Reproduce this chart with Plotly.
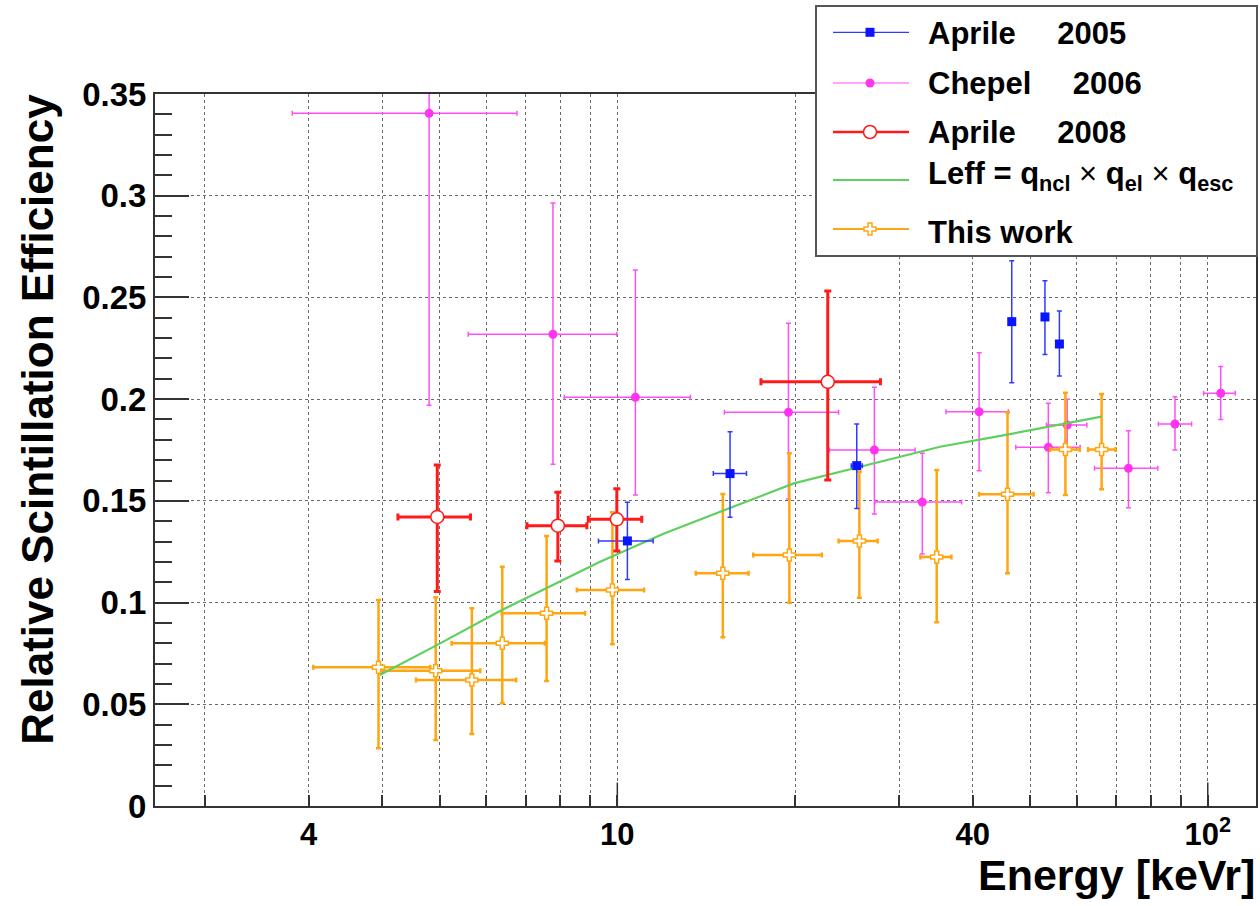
import math
import plotly.graph_objects as go

# ---------------- data ----------------
# Aprile 2005 (blue squares)
a05_x = [10.4, 15.52, 25.44, 46.56, 53.0, 56.07]
a05_y = [0.1303, 0.1634, 0.1673, 0.2381, 0.2404, 0.2271]
a05_xlo = [9.29, 14.54, 24.9, 46.56, 53.0, 56.07]
a05_xhi = [11.5, 16.55, 26.0, 46.56, 53.0, 56.07]
a05_ylo = [0.1114, 0.1419, 0.1463, 0.2081, 0.2220, 0.2114]
a05_yhi = [0.1493, 0.1840, 0.1878, 0.2680, 0.2582, 0.2433]

# Chepel 2006 (magenta circles)
c06_x = [4.80, 7.78, 10.73, 19.49, 27.25, 32.85, 41.0, 53.7, 57.8, 73.4, 88.0, 105.2]
c06_y = [0.3405, 0.2319, 0.2009, 0.1935, 0.1750, 0.1494, 0.1938, 0.1763, 0.1873, 0.1660, 0.1878, 0.2029]
c06_xlo = [2.815, 5.59, 8.13, 15.18, 22.87, 27.3, 36.03, 47.3, 53.3, 64.3, 82.5, 98.4]
c06_xhi = [6.76, 9.98, 13.3, 23.7, 31.94, 38.3, 45.94, 60.8, 62.4, 82.3, 93.9, 111.3]
c06_ylo = [0.197, 0.168, 0.1529, 0.1509, 0.1435, 0.1239, 0.1648, 0.154, 0.1747, 0.1466, 0.175, 0.190]
c06_yhi = [0.48, 0.2964, 0.2635, 0.2373, 0.2058, 0.1734, 0.2228, 0.198, 0.1999, 0.1845, 0.2012, 0.216]

# Aprile 2008 (red open circles)
a08_x = [4.955, 7.93, 9.98, 22.72]
a08_y = [0.1421, 0.1378, 0.1409, 0.2085]
a08_xlo = [4.25, 7.03, 8.93, 17.51]
a08_xhi = [5.64, 8.88, 11.0, 27.9]
a08_ylo = [0.1054, 0.1204, 0.1253, 0.1603]
a08_yhi = [0.1676, 0.1542, 0.1560, 0.2532]

# Leff = qncl x qel x qesc (green curve)
leff_x = [3.96, 4.92, 6.34, 8.0, 9.35, 12.0, 15.0, 19.9, 25.0, 30.0, 35.2, 44.3, 55.0, 66.1]
leff_y = [0.0644, 0.0787, 0.0960, 0.1104, 0.1201, 0.1340, 0.1449, 0.1586, 0.1658, 0.1715,
          0.1766, 0.1818, 0.1871, 0.1914]

# This work (orange)
tw_x = [3.94, 4.925, 5.67, 6.385, 7.59, 9.81, 15.09, 19.56, 25.7, 34.75, 45.8, 57.4, 66.1]
tw_y = [0.0682, 0.0665, 0.0619, 0.0800, 0.0947, 0.1062, 0.1144, 0.1234, 0.1303, 0.1224,
        0.1532, 0.1753, 0.1753]
tw_xlo = [3.055, 3.97, 4.56, 5.24, 6.37, 8.54, 13.58, 16.99, 23.7, 32.6, 41.0, 54.1, 62.7]
tw_xhi = [4.82, 5.86, 6.74, 7.54, 8.82, 11.1, 16.68, 22.2, 27.6, 36.8, 50.7, 60.7, 69.8]
tw_ylo = [0.0284, 0.0324, 0.0354, 0.0505, 0.0614, 0.0795, 0.0829, 0.0999, 0.1024, 0.0903,
          0.1144, 0.1529, 0.1557]
tw_yhi = [0.1013, 0.1026, 0.0972, 0.1176, 0.1327, 0.1444, 0.1534, 0.1734, 0.1643, 0.1652,
          0.1935, 0.2032, 0.2025]

# axes
x_min, x_max = 1.648, 120.7
y_min, y_max = 0.0, 0.35
xtick_vals = [3, 10, 40, 100]
xtick_text = ["4", "10", "40", "10<sup>2</sup>"]
xminor_vals = [2, 4, 5, 6, 7, 8, 9, 20, 30, 50, 60, 70, 80, 90]
ytick_vals = [0, 0.05, 0.1, 0.15, 0.2, 0.25, 0.3, 0.35]
ytick_text = ["0", "0.05", "0.1", "0.15", "0.2", "0.25", "0.3", "0.35"]

legend_labels = [
    "Aprile\u00a0\u00a0\u2002 2005",
    "Chepel\u00a0\u00a0\u2002 2006",
    "Aprile\u00a0\u00a0\u2002 2008",
    "Leff = q<sub>ncl</sub> <span style=\"font-weight:normal\">\u00d7</span> q<sub>el</sub> "
    "<span style=\"font-weight:normal\">\u00d7</span> q<sub>esc</sub>",
    "This work",
]

# ---------------- styling / layout ----------------
W, H = 1260, 906
PL, PR, PT, PB = 155, 1256, 94, 806          # plot frame in pixels
LL, LR, LT, LB = 817, 1256, 7, 255           # legend box in pixels

BLUE = "#0a14ff"
BLUE_BAR = "#2f3aff"
MAG = "#ff33f0"
MAG_BAR = "#ff4ff6"
RED = "#ff1a1a"
GREEN = "#5fcf5f"
ORANGE = "#ffa510"
FONT = "Liberation Sans, Arial, sans-serif"

fig = go.Figure()


def errs(v, lo, hi):
    plus = [h - c for c, h in zip(v, hi)]
    minus = [c - l for c, l in zip(v, lo)]
    return plus, minus


def add_points(x, y, xlo, xhi, ylo, yhi, barcolor, thick, cap, symbol, size, fill, edge, edgew):
    xp, xm = errs(x, xlo, xhi)
    yp, ym = errs(y, ylo, yhi)
    fig.add_trace(go.Scatter(
        x=x, y=y, mode="markers", showlegend=False, xaxis="x", yaxis="y",
        error_x=dict(type="data", symmetric=False, array=xp, arrayminus=xm,
                     color=barcolor, thickness=thick, width=cap),
        error_y=dict(type="data", symmetric=False, array=yp, arrayminus=ym,
                     color=barcolor, thickness=thick, width=cap),
        marker=dict(symbol=symbol, size=size, color=fill, line=dict(color=edge, width=edgew)),
    ))


add_points(c06_x, c06_y, c06_xlo, c06_xhi, c06_ylo, c06_yhi, MAG_BAR, 1.5, 2.5,
           "circle", 9, MAG, MAG, 0)
add_points(tw_x, tw_y, tw_xlo, tw_xhi, tw_ylo, tw_yhi, ORANGE, 2.5, 2.5,
           "cross", 10, "white", ORANGE, 1.5)
fig.add_trace(go.Scatter(x=leff_x, y=leff_y, mode="lines", showlegend=False,
                         line=dict(color=GREEN, width=2.2), xaxis="x", yaxis="y"))
add_points(a05_x, a05_y, a05_xlo, a05_xhi, a05_ylo, a05_yhi, BLUE_BAR, 1.5, 2.5,
           "square", 9, BLUE, BLUE, 0)
add_points(a08_x, a08_y, a08_xlo, a08_xhi, a08_ylo, a08_yhi, RED, 3, 3.5,
           "circle", 13, "white", RED, 1.5)

# ---------------- hand-made legend in an inset subplot ----------------
row_py = [32.3, 83.0, 132.0, 180.0, 229.0]
row_y = [(LB - p) / (LB - LT) for p in row_py]
lx0 = (833 - LL) / (LR - LL)
lx1 = (909 - LL) / (LR - LL)
lxm = (870 - LL) / (LR - LL)
leg_styles = [
    dict(line=dict(color=BLUE_BAR, width=1.2), marker=dict(symbol="square", size=9, color=BLUE)),
    dict(line=dict(color=MAG_BAR, width=1.2), marker=dict(symbol="circle", size=9, color=MAG)),
    dict(line=dict(color=RED, width=2.5),
         marker=dict(symbol="circle", size=13, color="white", line=dict(color=RED, width=1.5))),
    dict(line=dict(color=GREEN, width=2.2), marker=None),
    dict(line=dict(color=ORANGE, width=2.2),
         marker=dict(symbol="cross", size=10, color="white", line=dict(color=ORANGE, width=1.5))),
]
for ry, st in zip(row_y, leg_styles):
    fig.add_trace(go.Scatter(x=[lx0, lx1], y=[ry, ry], mode="lines", line=st["line"],
                             showlegend=False, xaxis="x2", yaxis="y2", hoverinfo="skip"))
    if st["marker"] is not None:
        fig.add_trace(go.Scatter(x=[lxm], y=[ry], mode="markers", marker=st["marker"],
                                 showlegend=False, xaxis="x2", yaxis="y2", hoverinfo="skip"))

annotations = []
text_py = [33.8, 83.3, 132.5, 176.0, 233.0]
for lab, py in zip(legend_labels, text_py):
    annotations.append(dict(text=lab, x=926.0 / W, y=1 - py / H, xref="paper", yref="paper",
                            xanchor="left", yanchor="middle", showarrow=False,
                            font=dict(family=FONT, size=31, color="black", weight="bold")))

# axis titles
annotations.append(dict(text="Relative Scintillation Efficiency", x=36.8 / W, y=1 - 419 / H,
                        xref="paper", yref="paper", textangle=-90, showarrow=False,
                        xanchor="center", yanchor="middle",
                        font=dict(family=FONT, size=44, color="black", weight="bold")))
annotations.append(dict(text="Energy [keVr]", x=1257 / W, y=1 - 875 / H,
                        xref="paper", yref="paper", showarrow=False,
                        xanchor="right", yanchor="middle",
                        font=dict(family=FONT, size=43, color="black", weight="bold")))

# longer ticks at the decades
shapes = []
for xv in [10, 100]:
    shapes.append(dict(type="line", xref="x", yref="y", x0=xv, x1=xv, y0=0, y1=0.0115,
                       line=dict(color="#333", width=1.5), layer="above"))

grid = dict(showgrid=True, gridcolor="#6a6a6a", griddash="dot", gridwidth=1)

fig.update_layout(
    width=W, height=H,
    margin=dict(l=0, r=0, t=0, b=0),
    paper_bgcolor="white", plot_bgcolor="white",
    font=dict(family=FONT, color="black", weight="bold"),
    showlegend=False,
    xaxis=dict(
        type="log", range=[math.log10(x_min), math.log10(x_max)],
        domain=[PL / W, PR / W], anchor="y",
        tickmode="array", tickvals=xtick_vals, ticktext=xtick_text,
        ticks="inside", ticklen=11, tickwidth=1.5, tickcolor="#333",
        tickfont=dict(family=FONT, size=31, color="black", weight="bold"),
        showline=True, linecolor="#333", linewidth=2, mirror=True, zeroline=False,
        minor=dict(tickmode="array", tickvals=xminor_vals, ticks="inside", ticklen=11,
                   tickwidth=1.5, tickcolor="#333", **grid),
        automargin=False, **grid,
    ),
    yaxis=dict(
        range=[y_min, y_max], domain=[1 - PB / H, 1 - PT / H], anchor="x",
        tickmode="array", tickvals=ytick_vals, ticktext=ytick_text,
        ticks="inside", ticklen=34, tickwidth=1.5, tickcolor="#333",
        tickfont=dict(family=FONT, size=33, color="black", weight="bold"),
        showline=True, linecolor="#333", linewidth=2, mirror=True, zeroline=False,
        minor=dict(tickmode="linear", tick0=0, dtick=0.01, ticks="inside", ticklen=17,
                   tickwidth=1.5, tickcolor="#333", showgrid=False),
        automargin=False, **grid,
    ),
    xaxis2=dict(domain=[LL / W, LR / W], range=[0, 1], anchor="y2", showgrid=False,
                zeroline=False, showticklabels=False, ticks="", showline=True, mirror=True,
                linecolor="#555", linewidth=1.5, fixedrange=True),
    yaxis2=dict(domain=[1 - LB / H, 1 - LT / H], range=[0, 1], anchor="x2", showgrid=False,
                zeroline=False, showticklabels=False, ticks="", showline=True, mirror=True,
                linecolor="#555", linewidth=1.5, fixedrange=True),
    annotations=annotations,
    shapes=shapes,
)

fig.write_html("out.html")
